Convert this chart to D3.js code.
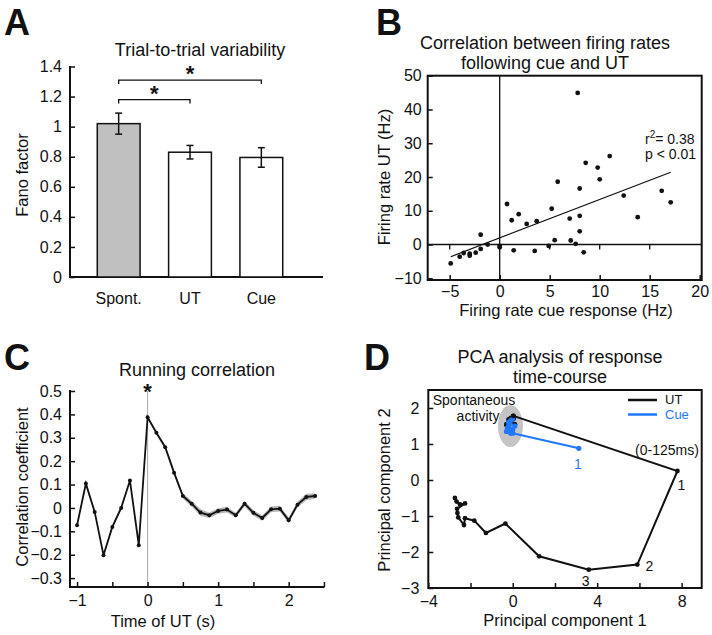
<!DOCTYPE html>
<html><head><meta charset="utf-8">
<script src="https://cdn.jsdelivr.net/npm/d3@7"></script>
<style>body{margin:0;background:#fff}svg text{font-family:"Liberation Sans",Arial,sans-serif;fill:#111}</style>
</head><body><svg id="c" width="712" height="635"></svg>
<script>
// ---- Panel A data ----
const barCats = ["Spont.", "UT", "Cue"];
const barVals = [1.02, 0.83, 0.795];
const barLo = [0.95, 0.785, 0.73];
const barHi = [1.09, 0.875, 0.86];
const barTicks = [0, 0.2, 0.4, 0.6, 0.8, 1, 1.2, 1.4];
// ---- Panel B data ----
const cueRate = [7.8,0.73,1.2,1.9,2.7,3.7,5.2,5.8,5.5,4.9,3.5,1.4,0,0,-1.2,-1.9,-1.9,-2.4,-3.0,-3.0,-3.6,-4.0,-4.9,7.0,7.1,7.6,8.0,8.0,8.0,8.4,8.6,9.8,10.0,11.0,12.4,13.8,16.2,17.1];
const utRate  = [44.9,12.0,7.2,9.0,6.1,6.9,10.6,18.6,1.3,-0.4,-1.9,-1.7,-0.4,-0.8,0,2.9,-1.3,-2.4,-2.7,-3.3,-2.5,-3.6,-5.6,7.7,1.2,0.2,3.9,8.5,16.6,-2.3,24.2,22.8,19.3,26.2,14.5,8.1,15.9,12.5];
const fitX = [-4.9, 17.1];
const fitY = [-3.6, 21.4];
const bXTicks = [-5, 0, 5, 10, 15, 20];
const bYTicks = [-10, 0, 10, 20, 30, 40, 50];
// ---- Panel C data ----
const runT = [-1,-0.875,-0.75,-0.625,-0.5,-0.375,-0.25,-0.125,0,0.125,0.25,0.375,0.5,0.625,0.75,0.875,1,1.125,1.25,1.375,1.5,1.625,1.75,1.875,2,2.125,2.25,2.375];
const runR = [-0.074,0.104,-0.017,-0.202,-0.081,0.0,0.117,-0.159,0.388,0.321,0.26,0.151,0.051,0.018,-0.02,-0.031,-0.013,-0.007,-0.031,0.018,-0.021,-0.043,-0.006,-0.003,-0.053,0.014,0.047,0.051];
const runErr = [0.004,0.012,0.006,0.006,0.008,0.01,0.006,0.004,0.008,0.01,0.01,0.01,0.012,0.012,0.014,0.012,0.012,0.012,0.01,0.012,0.012,0.012,0.012,0.012,0.012,0.012,0.014,0.012];
const cXTicks = [-1, -0.5, 0, 0.5, 1, 1.5, 2, 2.5];
const cXLabels = [-1, 0, 1, 2];
const cYTicks = [-0.3,-0.2,-0.1,0,0.1,0.2,0.3,0.4,0.5];
// ---- Panel D data ----
const spontUT1 = [-0.3,-0.2,-0.1,0.0,-0.25,-0.15,0.05,-0.3,-0.05,0.1,-0.2,0.03];
const spontUT2 = [1.55,1.65,1.72,1.76,1.47,1.6,1.7,1.52,1.58,1.55,1.68,1.78];
const utPC1 = [0.03,7.8,5.9,3.6,1.25,-0.35,-1.27,-1.82,-2.26,-2.31,-2.58,-2.62,-2.64,-2.26,-2.5,-2.66,-2.74];
const utPC2 = [1.78,0.25,-2.35,-2.49,-2.12,-1.21,-1.47,-1.13,-1.06,-1.25,-1.04,-0.92,-0.8,-0.65,-0.68,-0.6,-0.5];
const spontCue1 = [-0.3,-0.2,-0.1,0.0,-0.25,-0.1,0.0,0.1,-0.2,0.0];
const spontCue2 = [1.35,1.5,1.65,1.7,1.45,1.3,1.4,1.5,1.6,1.3];
const cuePC1 = [0.0, 3.13];
const cuePC2 = [1.3, 0.88];
const dXTicks = [-4,-2,0,2,4,6,8];
const dXLabels = [-4,0,4,8];
const dYTicks = [-3,-2,-1,0,1,2];

const svg = d3.select("#c");
const FS = 16;
const blue = "#1f78ff";

function letter(t, x, y){ svg.append("text").attr("x",x).attr("y",y).attr("font-size",36).attr("font-weight","bold").style("font-family","'Liberation Sans',Arial").text(t); }
function title(lines, x, y){ lines.forEach((l,i)=>svg.append("text").attr("x",x).attr("y",y+i*20).attr("text-anchor","middle").attr("font-size",18).text(l)); }
function ylab(t, x, y){ svg.append("text").attr("transform",`translate(${x},${y}) rotate(-90)`).attr("text-anchor","middle").attr("font-size",16.5).text(t); }
function xlab(t, x, y){ svg.append("text").attr("x",x).attr("y",y).attr("text-anchor","middle").attr("font-size",16.5).text(t); }
function styleAxis(g){ g.select(".domain").remove(); g.selectAll(".tick line").attr("stroke-width",1.5).attr("stroke","#111"); g.selectAll("text").attr("font-size",FS).style("font-family","'Liberation Sans',Arial").style("fill","#111"); }

// ================= A =================
letter("A", 4, 35);
title(["Trial-to-trial variability"], 200, 56);
const ay = d3.scaleLinear().domain([0,1.4]).range([277,66.5]);
const ax = d3.scaleBand().domain(barCats).range([83,297]).paddingInner(0.4).paddingOuter(0.2);
const gA = svg.append("g");
gA.append("g").attr("transform","translate(70,0)")
  .call(d3.axisLeft(ay).tickValues(barTicks).tickSize(-5).tickPadding(8).tickFormat(d=>d3.format("")(d)))
  .call(styleAxis);
gA.append("line").attr("x1",70).attr("x2",70).attr("y1",66).attr("y2",278).attr("stroke","#111").attr("stroke-width",2);
gA.append("line").attr("x1",69).attr("x2",323).attr("y1",277).attr("y2",277).attr("stroke","#111").attr("stroke-width",2);
gA.selectAll("rect.bar").data(barCats).join("rect").attr("class","bar")
  .attr("x",d=>ax(d)).attr("width",ax.bandwidth()).attr("y",(d,i)=>ay(barVals[i])).attr("height",(d,i)=>ay(0)-ay(barVals[i]))
  .attr("fill",(d,i)=>i===0?"#c0c0c0":"#fff").attr("stroke","#111").attr("stroke-width",1.5);
barCats.forEach((c,i)=>{
  const cx = ax(c)+ax.bandwidth()/2;
  gA.append("line").attr("x1",cx).attr("x2",cx).attr("y1",ay(barLo[i])).attr("y2",ay(barHi[i])).attr("stroke","#111").attr("stroke-width",1.5);
  [barLo[i],barHi[i]].forEach(v=>gA.append("line").attr("x1",cx-3.5).attr("x2",cx+3.5).attr("y1",ay(v)).attr("y2",ay(v)).attr("stroke","#111").attr("stroke-width",1.5));
  gA.append("text").attr("x",cx).attr("y",304).attr("text-anchor","middle").attr("font-size",FS).text(c);
});
function bracket(i,j,v){
  const x1 = ax(barCats[i])+ax.bandwidth()/2, x2 = ax(barCats[j])+ax.bandwidth()/2, y = ay(v);
  gA.append("path").attr("d",`M${x1},${y+4}V${y}H${x2}V${y+4}`).attr("fill","none").attr("stroke","#111").attr("stroke-width",1.3);
  gA.append("text").attr("x",(x1+x2)/2).attr("y",y+1).attr("text-anchor","middle").attr("font-size",22).attr("font-weight","bold").text("*");
}
bracket(0,2,1.31);
bracket(0,1,1.18);
ylab("Fano factor", 28, 175);

// ================= B =================
letter("B", 376, 35);
title(["Correlation between firing rates","following cue and UT"], 545, 49);
const bx = d3.scaleLinear().domain([-7.2,20.2]).range([427.7,701.7]);
const by = d3.scaleLinear().domain([-10.5,50]).range([280,75.7]);
const gB = svg.append("g");
gB.append("line").attr("x1",bx(0)).attr("x2",bx(0)).attr("y1",by(-10.5)).attr("y2",by(50)).attr("stroke","#111").attr("stroke-width",1.3);
gB.append("line").attr("x1",bx(-7.2)).attr("x2",bx(20.2)).attr("y1",by(0)).attr("y2",by(0)).attr("stroke","#111").attr("stroke-width",1.5);
gB.append("g").attr("transform",`translate(0,${by(-10.5)})`)
  .call(d3.axisBottom(bx).tickValues(bXTicks).tickSize(-5).tickPadding(6))
  .call(styleAxis);
gB.append("g").attr("transform",`translate(${bx(-7.2)},0)`)
  .call(d3.axisLeft(by).tickValues(bYTicks).tickSize(-5).tickPadding(6))
  .call(styleAxis);
gB.selectAll("line.zt").data(bXTicks.filter(d=>d!==0&&d<20)).join("line").attr("class","zt")
  .attr("x1",d=>bx(d)).attr("x2",d=>bx(d)).attr("y1",by(0)).attr("y2",by(0)+5).attr("stroke","#111").attr("stroke-width",1.3);
gB.append("rect").attr("x",427.7).attr("y",75.7).attr("width",274).attr("height",204.3).attr("fill","none").attr("stroke","#111").attr("stroke-width",2);
gB.append("line").attr("x1",bx(fitX[0])).attr("y1",by(fitY[0])).attr("x2",bx(fitX[1])).attr("y2",by(fitY[1])).attr("stroke","#111").attr("stroke-width",1.2);
gB.selectAll("circle").data(cueRate).join("circle").attr("cx",d=>bx(d)).attr("cy",(d,i)=>by(utRate[i])).attr("r",2.4).attr("fill","#111");
const rt = gB.append("text").attr("x",645).attr("y",144).attr("font-size",14);
rt.append("tspan").text("r");
rt.append("tspan").attr("dy",-6).attr("font-size",10).text("2");
rt.append("tspan").attr("dy",6).text("= 0.38");
gB.append("text").attr("x",645).attr("y",159).attr("font-size",14).text("p < 0.01");
ylab("Firing rate UT (Hz)", 390, 177);
xlab("Firing rate cue response (Hz)", 566, 316);

// ================= C =================
letter("C", 4, 370);
title(["Running correlation"], 197, 376);
const cx = d3.scaleLinear().domain([-1.1,2.505]).range([70,324.3]);
const cy = d3.scaleLinear().domain([-0.338,0.5]).range([587,391]);
const gC = svg.append("g");
gC.append("line").attr("x1",cx(0)).attr("x2",cx(0)).attr("y1",cy(-0.338)).attr("y2",cy(0.5)).attr("stroke","#aaa").attr("stroke-width",1);
gC.append("g").attr("transform","translate(0,587)")
  .call(d3.axisBottom(cx).tickValues(cXTicks).tickSize(-5).tickPadding(8).tickFormat(d=>cXLabels.includes(d)?d3.format("")(d):""))
  .call(styleAxis);
gC.append("g").attr("transform","translate(70,0)")
  .call(d3.axisLeft(cy).tickValues(cYTicks).tickSize(-5).tickPadding(8).tickFormat(d=>d3.format("")(+d.toFixed(1))))
  .call(styleAxis);
gC.append("line").attr("x1",70).attr("x2",70).attr("y1",390).attr("y2",588).attr("stroke","#111").attr("stroke-width",2);
gC.append("line").attr("x1",69).attr("x2",324.5).attr("y1",587).attr("y2",587).attr("stroke","#111").attr("stroke-width",2);
const area = d3.area().x((d,i)=>cx(runT[i])).y0((d,i)=>cy(runR[i]-runErr[i])).y1((d,i)=>cy(runR[i]+runErr[i]));
gC.append("path").attr("d",area(runR)).attr("fill","#b8b8b8");
const line = d3.line().x((d,i)=>cx(runT[i])).y(d=>cy(d));
gC.append("path").attr("d",line(runR)).attr("fill","none").attr("stroke","#111").attr("stroke-width",1.8);
gC.selectAll("circle").data(runR).join("circle").attr("cx",(d,i)=>cx(runT[i])).attr("cy",d=>cy(d)).attr("r",2).attr("fill","#111");
gC.append("text").attr("x",cx(0)).attr("y",399).attr("text-anchor","middle").attr("font-size",22).attr("font-weight","bold").text("*");
ylab("Correlation coefficient", 28, 487);
xlab("Time of UT (s)", 163, 627);

// ================= D =================
letter("D", 364, 370);
title(["PCA analysis of response","time-course"], 560, 363);
const dx = d3.scaleLinear().domain([-4,8.95]).range([428.3,701.7]);
const dy = d3.scaleLinear().domain([-3,2.5]).range([588,390]);
const gD = svg.append("g");
gD.append("g").attr("transform","translate(0,588)")
  .call(d3.axisBottom(dx).tickValues(dXTicks).tickSize(-5).tickPadding(8).tickFormat(d=>dXLabels.includes(d)?d3.format("")(d):""))
  .call(styleAxis);
gD.append("g").attr("transform","translate(428.3,0)")
  .call(d3.axisLeft(dy).tickValues(dYTicks).tickSize(-5).tickPadding(9).tickFormat(d3.format("")))
  .call(styleAxis);
gD.append("rect").attr("x",428.3).attr("y",390).attr("width",273.4).attr("height",198).attr("fill","none").attr("stroke","#111").attr("stroke-width",2);
gD.append("ellipse").attr("cx",dx(-0.11)).attr("cy",dy(1.5)).attr("rx",12.5).attr("ry",21).attr("fill","#c4c4c4");
const dl = (a,b)=>d3.line().x((d,i)=>dx(a[i])).y((d,i)=>dy(b[i]))(a);
gD.append("path").attr("d",dl(spontUT1,spontUT2)).attr("fill","none").attr("stroke","#111").attr("stroke-width",2);
gD.selectAll("circle.su").data(spontUT1).join("circle").attr("class","su").attr("cx",d=>dx(d)).attr("cy",(d,i)=>dy(spontUT2[i])).attr("r",2.4).attr("fill","#111");
gD.append("path").attr("d",dl(spontCue1,spontCue2)).attr("fill","none").attr("stroke",blue).attr("stroke-width",2.5);
gD.selectAll("circle.sc").data(spontCue1).join("circle").attr("class","sc").attr("cx",d=>dx(d)).attr("cy",(d,i)=>dy(spontCue2[i])).attr("r",2.6).attr("fill",blue);
gD.append("path").attr("d",dl(utPC1,utPC2)).attr("fill","none").attr("stroke","#111").attr("stroke-width",2);
gD.selectAll("circle.u").data(utPC1).join("circle").attr("class","u").attr("cx",d=>dx(d)).attr("cy",(d,i)=>dy(utPC2[i])).attr("r",2.4).attr("fill","#111");
gD.append("path").attr("d",dl(cuePC1,cuePC2)).attr("fill","none").attr("stroke",blue).attr("stroke-width",2);
gD.append("circle").attr("cx",dx(cuePC1[1])).attr("cy",dy(cuePC2[1])).attr("r",2.6).attr("fill",blue);
const lab = (t,x,y,col)=>gD.append("text").attr("x",x).attr("y",y).attr("text-anchor","middle").attr("font-size",14).style("fill",col||"#111").text(t);
lab("1", dx(utPC1[1])+4, dy(utPC2[1])+19);
lab("2", dx(utPC1[2])+12, dy(utPC2[2])+6);
lab("3", dx(utPC1[3])-3, dy(utPC2[3])+16);
lab("1", dx(cuePC1[1])-1, dy(cuePC2[1])+21, blue);
lab("(0-125ms)", 667, 455);
lab("Spontaneous", 474, 405);
lab("activity", 478, 421);
gD.append("line").attr("x1",628).attr("x2",657).attr("y1",400).attr("y2",400).attr("stroke","#111").attr("stroke-width",2.5);
gD.append("line").attr("x1",628).attr("x2",657).attr("y1",414.5).attr("y2",414.5).attr("stroke",blue).attr("stroke-width",2.5);
gD.append("text").attr("x",665).attr("y",404).attr("font-size",13).text("UT");
gD.append("text").attr("x",665).attr("y",419).attr("font-size",13).style("fill",blue).text("Cue");
ylab("Principal component 2", 390, 490);
xlab("Principal component 1", 565, 626);
</script></body></html>
